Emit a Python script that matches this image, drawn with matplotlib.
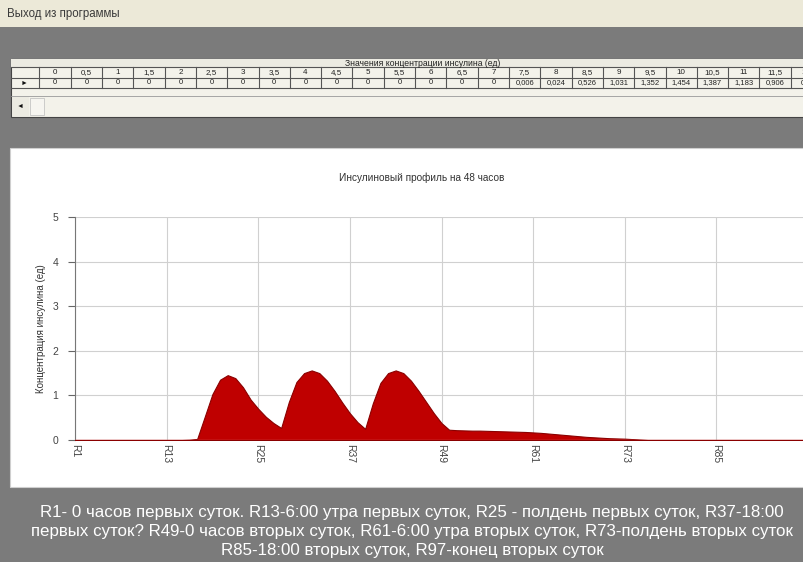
import matplotlib
matplotlib.use("Agg")
import matplotlib.pyplot as plt
import numpy as np
from matplotlib.patches import Rectangle
from matplotlib.lines import Line2D

plt.rcParams['font.family'] = ['Liberation Sans', 'DejaVu Sans']

# ---------------- data ----------------
hours = [0, 0.5, 1, 1.5, 2, 2.5, 3, 3.5, 4, 4.5, 5, 5.5, 6, 6.5, 7, 7.5, 8, 8.5, 9, 9.5,
         10, 10.5, 11, 11.5, 12, 12.5, 13, 13.5, 14, 14.5, 15, 15.5, 16, 16.5, 17, 17.5,
         18, 18.5, 19, 19.5, 20, 20.5, 21, 21.5, 22, 22.5, 23, 23.5, 24, 24.5, 25, 25.5,
         26, 26.5, 27, 27.5, 28, 28.5, 29, 29.5, 30, 30.5, 31, 31.5, 32, 32.5, 33, 33.5,
         34, 34.5, 35, 35.5, 36, 36.5, 37, 37.5, 38, 38.5, 39, 39.5, 40, 40.5, 41, 41.5,
         42, 42.5, 43, 43.5, 44, 44.5, 45, 45.5, 46, 46.5, 47, 47.5, 48]
insulin = [0, 0, 0, 0, 0, 0, 0, 0, 0, 0, 0, 0, 0, 0, 0, 0.006, 0.024, 0.526, 1.031, 1.352,
           1.454, 1.387, 1.183, 0.906, 0.700, 0.52, 0.38, 0.27, 0.85, 1.30, 1.50, 1.56, 1.50,
           1.33, 1.10, 0.84, 0.60, 0.40, 0.25, 0.82, 1.28, 1.50, 1.56, 1.50, 1.33, 1.10, 0.85,
           0.60, 0.38, 0.23, 0.22, 0.215, 0.21, 0.21, 0.205, 0.20, 0.195, 0.19, 0.185, 0.18,
           0.17, 0.16, 0.145, 0.13, 0.115, 0.10, 0.085, 0.07, 0.06, 0.05, 0.04, 0.035, 0.03,
           0.02, 0.01, 0, 0, 0, 0, 0, 0, 0, 0, 0, 0, 0, 0, 0, 0, 0, 0, 0, 0, 0, 0, 0, 0]
row_labels = ["R%d" % (i + 1) for i in range(len(insulin))]
y_ticks = [0, 1, 2, 3, 4, 5]

window_title = "Выход из программы"
table_title = "Значения концентрации инсулина (ед)"
chart_title = "Инсулиновый профиль на 48 часов"
y_label = "Концентрация инсулина (ед)"
note_lines = [
    "R1- 0 часов первых суток. R13-6:00 утра первых суток, R25 - полдень первых суток, R37-18:00",
    "первых суток? R49-0 часов вторых суток, R61-6:00 утра вторых суток, R73-полдень вторых суток",
    "R85-18:00 вторых суток, R97-конец вторых суток",
]

# ---------------- figure ----------------
W, H = 804, 562
fig = plt.figure(figsize=(W / 100, H / 100), dpi=100)
fig.patch.set_facecolor('#7b7b7b')


def fx(x):
    return x / W


def fy(y):
    return 1 - y / H


def rect(x0, y0, x1, y1, fc, ec='none', lw=0, z=0):
    fig.add_artist(Rectangle((fx(x0), fy(y1)), fx(x1) - fx(x0), fy(y0) - fy(y1),
                             transform=fig.transFigure, facecolor=fc, edgecolor=ec,
                             linewidth=lw, zorder=z))


def hline(x0, x1, y, c='#555555', lw=0.8):
    fig.add_artist(Line2D([fx(x0), fx(x1)], [fy(y), fy(y)], transform=fig.transFigure,
                          color=c, lw=lw))


def vline(x, y0, y1, c='#555555', lw=0.8):
    fig.add_artist(Line2D([fx(x), fx(x)], [fy(y0), fy(y1)], transform=fig.transFigure,
                          color=c, lw=lw))


# window title bar
rect(0, 0, W, 27, '#ece9d8')
fig.text(fx(7), fy(14), window_title, fontsize=8.3, color='#3a3a3a', va='center', ha='left')

# table panel
rect(11, 59, W + 5, 117, '#f3f2ea', ec='#444444', lw=0.8)
rect(11, 59, W + 5, 67, '#ecebe2')
fig.text(fx(423), fy(63), table_title, fontsize=6.2, color='#222222', ha='center',
         va='center')
hline(11, W, 67)
hline(11, W, 78)
hline(11, W, 88)
col_w = 31.3
col0 = 39.5
vline(col0, 67, 88)
for k, h in enumerate(hours):
    xl = col0 + k * col_w
    if xl > W - 8:
        break
    vline(xl + col_w, 67, 88)
    cx = xl + col_w / 2
    fig.text(fx(cx), fy(72.5), ("%g" % h).replace('.', ','), fontsize=5.8,
             color='#222222', ha='center', va='center')
    fig.text(fx(cx), fy(83), ("%g" % insulin[k]).replace('.', ','), fontsize=5.5,
             color='#222222', ha='center', va='center')
fig.text(fx(24), fy(83), "\u25ba", fontsize=5, color='#111111', ha='center', va='center')
hline(11, W, 96, c='#999999', lw=0.6)
rect(13, 97, 29, 116, '#ecebe2')
fig.text(fx(20), fy(106), "\u25c4", fontsize=5, color='#111111', ha='center', va='center')
rect(30, 98, 44, 115, '#f6f5f0', ec='#bbbbbb', lw=0.5)

# chart panel
rect(10, 148, W + 5, 487, '#ffffff', ec='#cfcfcf', lw=0.8)
fig.text(fx(422), fy(178), chart_title, fontsize=7.2, color='#333333', ha='center',
         va='center')

# axes: index 0 at x=75, index 96 at x=808; y=0 at 440, y=5 at 217
ax_l, ax_r = 75, 808
ax_t, ax_b = 217, 440
ax = fig.add_axes([fx(ax_l), fy(ax_b), fx(ax_r) - fx(ax_l), fy(ax_t) - fy(ax_b)])
ax.set_facecolor('none')
x = np.arange(len(insulin))
ax.fill_between(x, insulin, 0, color='#bf0000', edgecolor='#8a0000', linewidth=0.8,
                zorder=3)
ax.axhline(0, color='#e05a5a', lw=1.0, zorder=4)
ax.set_xlim(0, len(insulin) - 1)
ax.set_ylim(0, 5)
tick_pos = list(range(0, len(insulin) - 1, 12))
ax.set_xticks(tick_pos)
ax.set_xticklabels([row_labels[i] for i in tick_pos], rotation=270, fontsize=7.5,
                   color='#444444')
ax.set_yticks(y_ticks)
ax.set_yticklabels([str(v) for v in y_ticks], fontsize=7.5, color='#444444')
ax.grid(True, color='#d0d0d0', lw=0.8, zorder=0)
ax.set_axisbelow(True)
for s in ['top', 'right', 'bottom']:
    ax.spines[s].set_visible(False)
ax.spines['left'].set_color('#777777')
ax.spines['left'].set_linewidth(0.8)
ax.tick_params(axis='y', length=5, width=0.8, color='#666666', pad=7)
ax.tick_params(axis='x', length=0, pad=3)
ax.set_ylabel(y_label, fontsize=7, color='#333333', labelpad=5)

# bottom notes
for i, line in enumerate(note_lines):
    fig.text(fx(412), fy(512 + i * 19.5), line, fontsize=12.2, color='#ffffff',
             ha='center', va='center')

fig.savefig('out.png', dpi=100, facecolor=fig.get_facecolor())
